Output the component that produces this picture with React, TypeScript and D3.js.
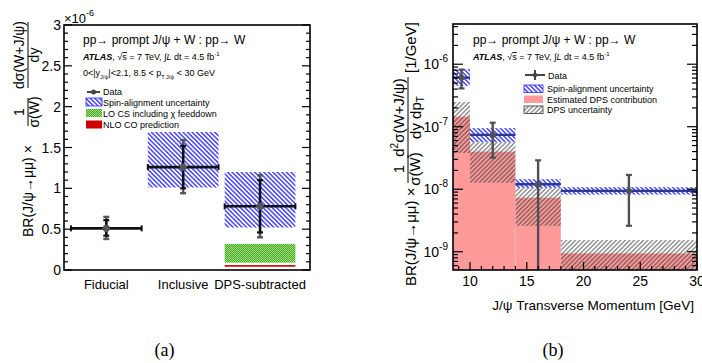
import React from "react";
import * as d3 from "d3";

// ---------- Panel (a) data (units of 1e-6) ----------
const categories = ["Fiducial", "Inclusive", "DPS-subtracted"];
const categoryPos = [0.5, 1.5, 2.5];
const ratioValue = [0.51, 1.26, 0.78];
const ratioStatLo = [0.42, 1.0, 0.46];
const ratioStatHi = [0.61, 1.52, 1.1];
const ratioTotLo = [0.38, 0.94, 0.4];
const ratioTotHi = [0.65, 1.59, 1.16];
const spinLoA = [NaN, 1.01, 0.52];
const spinHiA = [NaN, 1.69, 1.2];
const loCsBand = [0.09, 0.32];
const nloCoBand = [0.04, 0.06];
const yTicksA = [0, 0.5, 1, 1.5, 2, 2.5, 3];
const yTickLabelsA = ["0", "0.5", "1", "1.5", "2", "2.5", "3"];

// ---------- Panel (b) data ----------
const ptEdges = [8.5, 10, 14, 18, 30];
const ptCenters = [9.25, 12, 16, 24];
const diffValue = [6.1e-7, 7.4e-8, 1.2e-8, 9.4e-9];
const diffErrLo = [4.1e-7, 3.2e-8, 1e-10, 2.6e-9];
const diffErrHi = [8.2e-7, 1.16e-7, 2.9e-8, 1.69e-8];
const spinLoB = [4.5e-7, 5.65e-8, 1.04e-8, 8.2e-9];
const spinHiB = [8.4e-7, 9.5e-8, 1.45e-8, 1.08e-8];
const dpsCentral = [1.45e-7, 4.0e-8, 7.3e-9, 9.4e-10];
const dpsLo = [3.8e-8, 1.27e-8, 2.6e-9, 3e-10];
const dpsHi = [2.5e-7, 5.65e-8, 1.04e-8, 1.54e-9];
const xTicksB = [10, 15, 20, 25, 30];
const yDecadesB = [-9, -8, -7, -6];

const FONT = "'Liberation Sans', Arial, Helvetica, sans-serif";
const BLUE = "#2a2aff";
const PINK = "#ff9a9a";
const DGRAY = "#444";

export default function App() {
  const xA = d3.scaleLinear().domain([-0.05, 3.15]).range([64, 310]);
  const yA = d3.scaleLinear().domain([0, 3]).range([270, 25]);
  const minorA = d3.range(0, 3.0001, 0.1);
  const halfW = 0.46;

  const xB = d3.scaleLinear().domain([8.5, 30]).range([453, 697]);
  const yB = d3.scaleLog().domain([5.1e-10, 4.4e-6]).range([270, 24]);
  const [yLo, yHi] = yB.domain();
  const minorB: number[] = [];
  for (let d = -10; d <= -6; d++) {
    for (let k = 2; k <= 9; k++) {
      const v = k * Math.pow(10, d);
      if (v >= yLo && v <= yHi) minorB.push(v);
    }
  }
  const minorXB = d3.range(9, 30.001, 1);

  const rectB = (i: number, lo: number, hi: number) => {
    const l = Math.max(lo, yLo), h = Math.min(hi, yHi);
    return {
      x: xB(ptEdges[i]),
      y: yB(h),
      width: xB(ptEdges[i + 1]) - xB(ptEdges[i]),
      height: yB(l) - yB(h),
    };
  };

  return (
    <svg
      width={702}
      height={363}
      style={{ position: "absolute", left: 0, top: 0, background: "#fff" }}
      fontFamily={FONT}
    >
      <defs>
        <pattern id="spin" patternUnits="userSpaceOnUse" width={3.2} height={3.2} patternTransform="rotate(-45)">
          <rect width={3.2} height={3.2} fill="#fff" />
          <line x1={0.8} y1={0} x2={0.8} y2={3.2} stroke={BLUE} strokeWidth={1.3} />
        </pattern>
        <pattern id="dps" patternUnits="userSpaceOnUse" width={3.2} height={3.2} patternTransform="rotate(45)">
          <line x1={0.8} y1={0} x2={0.8} y2={3.2} stroke="#333" strokeWidth={0.8} />
        </pattern>
        <pattern id="checker" patternUnits="userSpaceOnUse" width={2} height={2}>
          <rect width={2} height={2} fill="#3fa828" />
          <rect x={0} y={0} width={1} height={1} fill="#a6e07a" />
          <rect x={1} y={1} width={1} height={1} fill="#a6e07a" />
        </pattern>
        <clipPath id="clipB">
          <rect x={453} y={24} width={244} height={246} />
        </clipPath>
      </defs>

      {/* ================= Panel (a) ================= */}
      <g>
        {categoryPos.map((c, i) =>
          isNaN(spinLoA[i]) ? null : (
            <rect
              key={"sa" + i}
              x={xA(c - halfW)}
              y={yA(spinHiA[i])}
              width={xA(c + halfW) - xA(c - halfW)}
              height={yA(spinLoA[i]) - yA(spinHiA[i])}
              fill="url(#spin)"
            />
          )
        )}
        <rect
          x={xA(categoryPos[2] - halfW)}
          y={yA(loCsBand[1])}
          width={xA(categoryPos[2] + halfW) - xA(categoryPos[2] - halfW)}
          height={yA(loCsBand[0]) - yA(loCsBand[1])}
          fill="url(#checker)"
        />
        <rect
          x={xA(categoryPos[2] - halfW)}
          y={yA(nloCoBand[1])}
          width={xA(categoryPos[2] + halfW) - xA(categoryPos[2] - halfW)}
          height={yA(nloCoBand[0]) - yA(nloCoBand[1])}
          fill="#cc0000"
        />
        {categoryPos.map((c, i) => {
          const cx = xA(c);
          const cy = yA(ratioValue[i]);
          return (
            <g key={"da" + i}>
              <line x1={cx} x2={cx} y1={yA(ratioTotLo[i])} y2={yA(ratioTotHi[i])} stroke="#555" strokeWidth={2.4} />
              <line x1={cx - 3} x2={cx + 3} y1={yA(ratioTotLo[i])} y2={yA(ratioTotLo[i])} stroke="#555" strokeWidth={2.4} />
              <line x1={cx - 3} x2={cx + 3} y1={yA(ratioTotHi[i])} y2={yA(ratioTotHi[i])} stroke="#555" strokeWidth={2.4} />
              <line x1={cx} x2={cx} y1={yA(ratioStatLo[i])} y2={yA(ratioStatHi[i])} stroke="#111" strokeWidth={2.4} />
              <line x1={cx - 3} x2={cx + 3} y1={yA(ratioStatLo[i])} y2={yA(ratioStatLo[i])} stroke="#111" strokeWidth={2.2} />
              <line x1={cx - 3} x2={cx + 3} y1={yA(ratioStatHi[i])} y2={yA(ratioStatHi[i])} stroke="#111" strokeWidth={2.2} />
              <line x1={xA(c - halfW)} x2={xA(c + halfW)} y1={cy} y2={cy} stroke="#111" strokeWidth={2.6} />
              <line x1={xA(c - halfW)} x2={xA(c - halfW)} y1={cy - 3} y2={cy + 3} stroke="#111" strokeWidth={2} />
              <line x1={xA(c + halfW)} x2={xA(c + halfW)} y1={cy - 3} y2={cy + 3} stroke="#111" strokeWidth={2} />
              <circle cx={cx} cy={cy} r={3.6} fill="#555" />
            </g>
          );
        })}
        <rect x={64} y={25} width={246} height={245} fill="none" stroke="#000" strokeWidth={1.6} />
        {minorA.map((v, i) => {
          const major = i % 5 === 0;
          const len = major ? 8 : 4;
          return (
            <g key={"ta" + i}>
              <line x1={64} x2={64 + len} y1={yA(v)} y2={yA(v)} stroke="#000" strokeWidth={1.2} />
              <line x1={310} x2={310 - len} y1={yA(v)} y2={yA(v)} stroke="#000" strokeWidth={1.2} />
            </g>
          );
        })}
        {yTicksA.map((v, i) => (
          <text key={"la" + i} x={61} y={yA(v) + 5} fontSize={14} textAnchor="end" fill="#000">
            {yTickLabelsA[i]}
          </text>
        ))}
        <text x={64} y={23} fontSize={13}>
          ×10<tspan dy={-7} fontSize={9}>-6</tspan>
        </text>
        {categories.map((c, i) => (
          <text key={"ca" + i} x={xA(categoryPos[i])} y={289} fontSize={13} textAnchor="middle">
            {c}
          </text>
        ))}
        <g transform="translate(33,237) rotate(-90)" fontSize={14}>
          <text x={0} y={0}>BR(J/ψ→μμ) ×</text>
          <text x={125} y={-9} textAnchor="middle">1</text>
          <line x1={111} x2={139} y1={-5} y2={-5} stroke="#000" strokeWidth={1} />
          <text x={125} y={6} textAnchor="middle">σ(W)</text>
          <text x={182} y={-9} textAnchor="middle">dσ(W+J/ψ)</text>
          <line x1={149} x2={215} y1={-5} y2={-5} stroke="#000" strokeWidth={1} />
          <text x={182} y={6} textAnchor="middle">dy</text>
        </g>
        <text x={83} y={44} fontSize={12}>pp→ prompt J/ψ + W : pp→ W</text>
        <text x={83} y={60} fontSize={9}>
          <tspan fontWeight="bold" fontStyle="italic">ATLAS</tspan>, √<tspan textDecoration="overline">s</tspan> = 7 TeV, ∫<tspan fontStyle="italic">L</tspan> dt = 4.5 fb<tspan dy={-4} fontSize={6}>-1</tspan>
        </text>
        <text x={83} y={76} fontSize={9}>
          0&lt;|y<tspan dy={3} fontSize={5.5}>J/ψ</tspan><tspan dy={-3}>|&lt;2.1, 8.5 &lt; p</tspan><tspan dy={3} fontSize={5.5}>T J/ψ</tspan><tspan dy={-3}>  &lt; 30 GeV</tspan>
        </text>
        <line x1={87} x2={100} y1={92} y2={92} stroke={DGRAY} strokeWidth={2} />
        <circle cx={93.5} cy={92} r={2.5} fill={DGRAY} />
        <text x={103} y={95} fontSize={9}>Data</text>
        <rect x={86} y={98} width={16} height={8} fill="url(#spin)" stroke={BLUE} strokeWidth={0.8} />
        <text x={103} y={105.5} fontSize={9}>Spin-alignment uncertainty</text>
        <rect x={86} y={109} width={16} height={8} fill="url(#checker)" />
        <text x={103} y={116.5} fontSize={9}>LO CS including χ feeddown</text>
        <rect x={86} y={120.5} width={16} height={8} fill="#cc0000" />
        <text x={103} y={127.5} fontSize={9}>NLO CO prediction</text>
        <text x={164.5} y={356} fontSize={18} fontFamily="'Liberation Serif', 'Times New Roman', serif" textAnchor="middle">(a)</text>
      </g>

      {/* ================= Panel (b) ================= */}
      <g>
        <g clipPath="url(#clipB)">
          {ptCenters.map((_, i) => {
            const r = rectB(i, yLo, dpsCentral[i]);
            return <rect key={"pk" + i} {...r} fill={PINK} />;
          })}
          {ptCenters.map((_, i) => {
            const r = rectB(i, dpsLo[i], dpsHi[i]);
            return <rect key={"du" + i} {...r} fill="url(#dps)" />;
          })}
          {ptCenters.map((_, i) => {
            const r = rectB(i, spinLoB[i], spinHiB[i]);
            return <rect key={"sb" + i} {...r} fill="url(#spin)" />;
          })}
          {ptCenters.map((c, i) => {
            const cx = xB(c);
            const cy = yB(diffValue[i]);
            const yl = yB(Math.max(diffErrLo[i], yLo * 0.9));
            const yh = yB(diffErrHi[i]);
            return (
              <g key={"db" + i}>
                <line x1={xB(ptEdges[i])} x2={xB(ptEdges[i + 1])} y1={cy} y2={cy} stroke="#2c3a8a" strokeWidth={2.4} />
                <line x1={cx} x2={cx} y1={yl} y2={yh} stroke="#505050" strokeWidth={2.4} />
                <line x1={cx - 3} x2={cx + 3} y1={yh} y2={yh} stroke="#505050" strokeWidth={2.2} />
                <line x1={cx - 3} x2={cx + 3} y1={yl} y2={yl} stroke="#505050" strokeWidth={2.2} />
                <circle cx={cx} cy={cy} r={3} fill="#505050" />
              </g>
            );
          })}
        </g>
        <rect x={453} y={24} width={244} height={246} fill="none" stroke="#000" strokeWidth={1.6} />
        {yDecadesB.map((d) => {
          const y = yB(Math.pow(10, d));
          return (
            <g key={"my" + d}>
              <line x1={453} x2={463} y1={y} y2={y} stroke="#000" strokeWidth={1.2} />
              <line x1={697} x2={687} y1={y} y2={y} stroke="#000" strokeWidth={1.2} />
              <text x={448} y={y + 5} fontSize={14} textAnchor="end">
                10<tspan dy={-7} fontSize={10}>{String(d)}</tspan>
              </text>
            </g>
          );
        })}
        {minorB.map((v, i) => (
          <g key={"mny" + i}>
            <line x1={453} x2={458} y1={yB(v)} y2={yB(v)} stroke="#000" strokeWidth={1.2} />
            <line x1={697} x2={692} y1={yB(v)} y2={yB(v)} stroke="#000" strokeWidth={1.2} />
          </g>
        ))}
        {minorXB.map((v, i) => {
          const major = xTicksB.includes(v);
          return (
            <line key={"mx" + i} x1={xB(v)} x2={xB(v)} y1={270} y2={270 - (major ? 8 : 4)} stroke="#000" strokeWidth={1.2} />
          );
        })}
        {xTicksB.map((v) => (
          <text key={"lx" + v} x={xB(v)} y={286} fontSize={14} textAnchor="middle">
            {v}
          </text>
        ))}
        <text x={694} y={310} fontSize={13.6} textAnchor="end">J/ψ Transverse Momentum [GeV]</text>
        <g transform="translate(416,286) rotate(-90)" fontSize={15}>
          <text x={0} y={0}>BR(J/ψ→μμ) ×</text>
          <text x={117} y={-12} textAnchor="middle">1</text>
          <line x1={103} x2={131} y1={-8} y2={-8} stroke="#000" strokeWidth={1} />
          <text x={117} y={4} textAnchor="middle">σ(W)</text>
          <text x={168.5} y={-12} textAnchor="middle">
            d<tspan dy={-6} fontSize={10}>2</tspan><tspan dy={6}>σ(W+J/ψ)</tspan>
          </text>
          <line x1={128} x2={209} y1={-8} y2={-8} stroke="#000" strokeWidth={1} />
          <text x={168.5} y={5} textAnchor="middle">
            dy dp<tspan dy={3} fontSize={10}>T</tspan>
          </text>
          <text x={213} y={0}>[1/GeV]</text>
        </g>
        <text x={473} y={44} fontSize={12}>pp→ prompt J/ψ + W : pp→ W</text>
        <text x={473} y={60} fontSize={9}>
          <tspan fontWeight="bold" fontStyle="italic">ATLAS</tspan>, √<tspan textDecoration="overline">s</tspan> = 7 TeV, ∫<tspan fontStyle="italic">L</tspan> dt = 4.5 fb<tspan dy={-4} fontSize={6}>-1</tspan>
        </text>
        <line x1={525} x2={545} y1={75} y2={75} stroke={DGRAY} strokeWidth={2} />
        <line x1={535} x2={535} y1={70} y2={80} stroke={DGRAY} strokeWidth={2} />
        <circle cx={535} cy={75} r={2.2} fill={DGRAY} />
        <text x={548} y={78.5} fontSize={9}>Data</text>
        <rect x={524} y={85} width={19} height={7.5} fill="url(#spin)" stroke={BLUE} strokeWidth={0.8} />
        <text x={547} y={91.5} fontSize={9}>Spin-alignment uncertainty</text>
        <rect x={524} y={95.5} width={19} height={7.5} fill={PINK} />
        <text x={547} y={102.5} fontSize={9}>Estimated DPS contribution</text>
        <rect x={524} y={106} width={19} height={7.5} fill="url(#dps)" stroke="#333" strokeWidth={0.8} />
        <text x={547} y={112.5} fontSize={9}>DPS uncertainty</text>
        <text x={553} y={356} fontSize={18} fontFamily="'Liberation Serif', 'Times New Roman', serif" textAnchor="middle">(b)</text>
      </g>
    </svg>
  );
}
